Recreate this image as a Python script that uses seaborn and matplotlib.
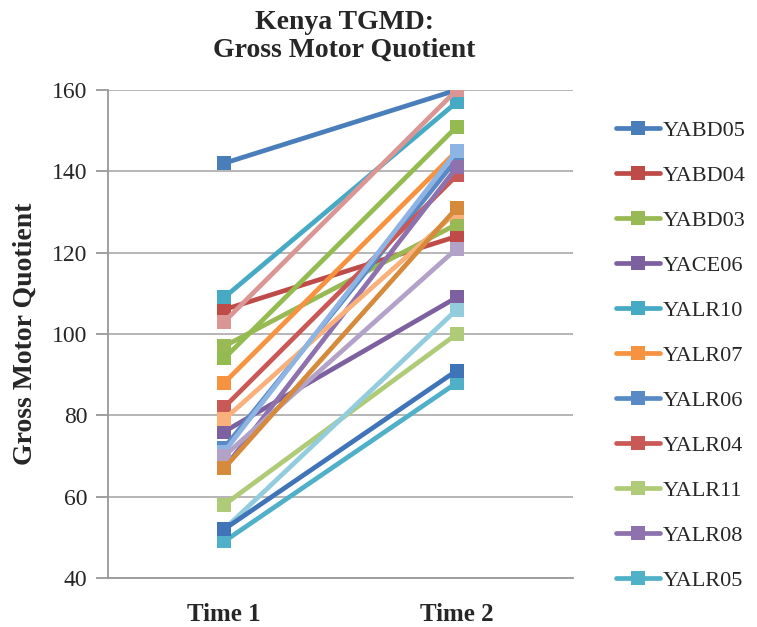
import matplotlib
matplotlib.use("Agg")
import matplotlib.pyplot as plt
from matplotlib.lines import Line2D
import seaborn as sns
import pandas as pd

times = ["Time 1", "Time 2"]
subjects = ["YABD05", "YABD04", "YABD03", "YACE06", "YALR10", "YALR07",
            "YALR06", "YALR04", "YALR11", "YALR08", "YALR05",
            "YALR12", "YALR13", "YALR14", "YALR15", "YALR16", "YALR17",
            "YALR18", "YALR19"]
time1 = [142, 106, 97, 76, 109, 88, 72, 82, 58, 67, 49,
         79, 71, 103, 94, 70, 52, 67, 52]
time2 = [160, 124, 127, 109, 157, 145, 143, 139, 100, 141, 88,
         130, 145, 160, 151, 121, 106, 131, 91]
colors = ["#4A7EBB", "#BE4B48", "#98B954", "#7D60A0", "#46AAC5", "#F69240",
          "#5A8AC6", "#C95956", "#AFCB78", "#8D72AE", "#4FB0C8",
          "#F9B07A", "#8EB4E3", "#D99694", "#93BB50", "#B3A2C7", "#93CDDD",
          "#D58A3C", "#3F74B8"]
legend_count = 11

rows = []
for s, a, b in zip(subjects, time1, time2):
    rows.append({"subject": s, "t": 0, "value": a})
    rows.append({"subject": s, "t": 1, "value": b})
df = pd.DataFrame(rows)
palette = dict(zip(subjects, colors))

sns.set_style("white")
plt.rcParams["font.family"] = ["Liberation Serif", "DejaVu Serif"]

fig = plt.figure(figsize=(7.57, 6.27), dpi=100)
ax = fig.add_axes([108 / 757, 1 - 578 / 627, 465 / 757, (578 - 90) / 627])

sns.lineplot(data=df, x="t", y="value", hue="subject", hue_order=subjects,
             palette=palette, marker="s", markersize=9.5, markeredgewidth=0,
             linewidth=3.4, dashes=False, legend=False, ax=ax)

ax.set_xlim(-0.5, 1.5)
ax.set_ylim(40, 160)
ax.set_yticks(range(40, 161, 20))
ax.set_xticks([0, 1])
ax.set_xticklabels(times, fontsize=18, fontweight="bold")
ax.tick_params(axis="y", labelsize=17, length=9, width=1.3, color="#999999",
               direction="out", left=True, pad=6)
ax.tick_params(axis="x", length=0, pad=18)
ax.yaxis.grid(True, color="#B0B0B0", linewidth=1.3)
ax.set_axisbelow(True)
for side in ["top", "right"]:
    ax.spines[side].set_visible(False)
for side in ["left", "bottom"]:
    ax.spines[side].set_color("#999999")
    ax.spines[side].set_linewidth(1.3)
ax.set_xlabel("")
ax.set_ylabel("Gross Motor Quotient", fontsize=20, fontweight="bold", labelpad=10)

fig.suptitle("Kenya TGMD:\nGross Motor Quotient", fontsize=20, fontweight="bold",
             y=0.984, x=0.455, linespacing=1.15)

handles = [Line2D([0], [0], color=c, linewidth=3.4, marker="s", markersize=9.5,
                  markeredgewidth=0) for c in colors[:legend_count]]
fig.legend(handles, subjects[:legend_count], loc="upper left",
           bbox_to_anchor=(596 / 757, 1 - 100 / 627), frameon=False,
           fontsize=16, handlelength=2.0, handletextpad=0.1, labelspacing=1.1)

fig.savefig("out.png", dpi=100)
